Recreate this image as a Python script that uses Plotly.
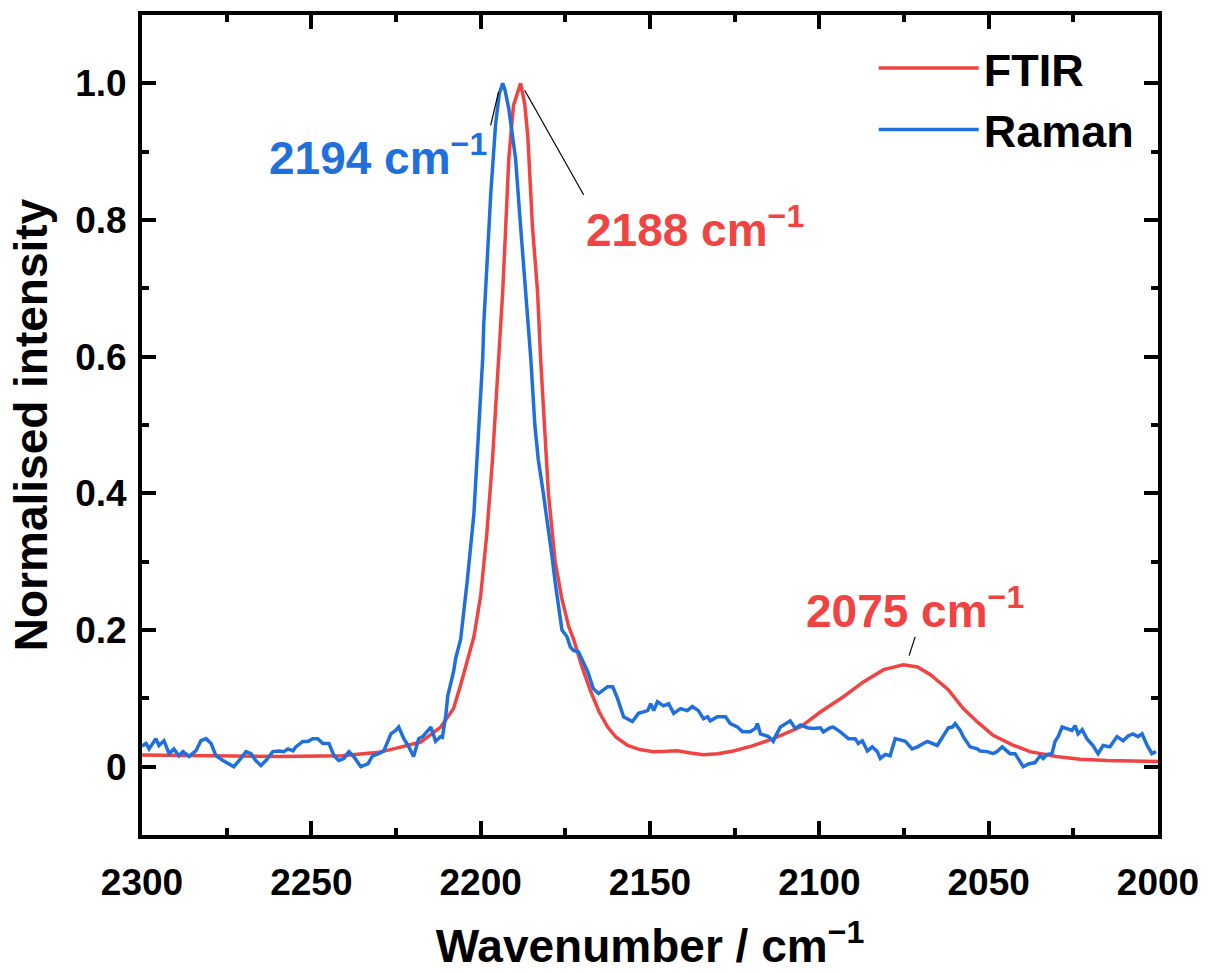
import plotly.graph_objects as go

# ---------------- data ----------------
ftir_x = [2300, 2280, 2260, 2241, 2230, 2225.7, 2217.7, 2211.8, 2208, 2205.9, 2204, 2202,
          2200, 2198.2, 2196.5, 2194.7, 2193.5, 2192.6, 2191.7, 2190.3, 2189, 2188.2, 2187,
          2186.1, 2184.7, 2183.2, 2182.3, 2181, 2180, 2178, 2176, 2174, 2172.6, 2170, 2167.5,
          2165, 2162.5, 2160, 2156.6, 2153, 2149, 2145, 2141.9, 2138, 2134.2, 2130, 2125.4,
          2120, 2113.6, 2105.6, 2099.7, 2093, 2087, 2081, 2075.2, 2071, 2067.3, 2062, 2057.5,
          2053, 2048.7, 2043, 2037.8, 2030, 2023, 2015, 2008, 2000]
ftir_y = [0.017, 0.016, 0.015, 0.016, 0.021, 0.026, 0.036, 0.058, 0.085, 0.12, 0.155, 0.19,
          0.25, 0.34, 0.45, 0.597, 0.695, 0.79, 0.89, 0.968, 0.99, 1.0, 0.97,
          0.924, 0.79, 0.695, 0.597, 0.49, 0.40, 0.30, 0.245, 0.205, 0.187, 0.145, 0.11,
          0.08, 0.058, 0.043, 0.031, 0.025, 0.022, 0.0225, 0.0234, 0.02, 0.0176, 0.019, 0.023,
          0.03, 0.041, 0.058, 0.08, 0.102, 0.124, 0.142, 0.149, 0.146, 0.135, 0.113, 0.085,
          0.064, 0.046, 0.032, 0.022, 0.015, 0.011, 0.009, 0.008, 0.0075]

raman_x = [2300, 2298.8, 2297.9, 2295.9, 2295, 2293.5, 2292, 2290.6, 2289.1, 2287.9, 2286.1,
           2284.1, 2282.6, 2281.1, 2279.6, 2278.2, 2276.1, 2274.3, 2272.9, 2270.8, 2269.3,
           2267.8, 2266.4, 2264.9, 2263.4, 2261.4, 2259.6, 2258.1, 2256.9, 2255.4, 2254.6,
           2252.5, 2251, 2249.6, 2248.1, 2246.6, 2244.8, 2243.3, 2241.9, 2240.4, 2238.9,
           2237.5, 2235.4, 2233.3, 2231.9, 2230.1, 2228.6, 2226.5, 2225.1, 2224.2, 2222.7,
           2221.2, 2219.8, 2218.3, 2217.1, 2214.7, 2213.3, 2211.8, 2211.3, 2210.3, 2209.7,
           2208, 2207.4, 2205.9, 2204, 2202, 2200.5, 2199.4, 2199.1, 2198, 2197, 2195.6,
           2194.5, 2193.5, 2192.8, 2191.7, 2189.7, 2188.2, 2186.7, 2185.2, 2184, 2183,
           2181.5, 2180.6, 2180, 2179, 2178, 2177, 2176, 2174.5, 2173.5, 2172.6, 2171.1,
           2168.4, 2166.7, 2165.2, 2162.5, 2161, 2159.6, 2157.8, 2155.2, 2153.4, 2150.7,
           2149.8, 2148.9, 2147.8, 2146, 2144.5, 2143, 2141, 2139, 2137.5, 2135.7, 2134.2,
           2133, 2132.2, 2130.1, 2127.7, 2126.3, 2124.2, 2122.7, 2120.4, 2118.9, 2118.3,
           2117.4, 2115, 2113.6, 2113, 2111.5, 2108.6, 2107.1, 2105.6, 2103.5, 2101.8,
           2099.7, 2098.8, 2096.8, 2095.9, 2093.8, 2091.4, 2089.4, 2088.5, 2087.3, 2085.8,
           2084.4, 2082.9, 2082, 2080.5, 2079.1, 2077.6, 2075.5, 2074.6, 2072.6, 2071,
           2069.3, 2068.1, 2065.2, 2063.4, 2061.9, 2060.7, 2059.9, 2058.4, 2057.5, 2055.5,
           2053.4, 2052.5, 2050.4, 2048.7, 2047.5, 2046, 2044.5, 2043.7, 2042.2, 2040.7,
           2039.8, 2038.3, 2036.3, 2034.8, 2033.9, 2032.7, 2031.3, 2030.4, 2029.5, 2028.3,
           2026.8, 2025.4, 2024.5, 2023.6, 2022.4, 2021, 2019.2, 2017.7, 2016.2, 2014.2,
           2012.1, 2010.3, 2008.8, 2007.4, 2005.9, 2004.7, 2003.2, 2001.8, 2000.6]
raman_y = [0.03, 0.034, 0.026, 0.041, 0.031, 0.038, 0.019, 0.026, 0.016, 0.022, 0.015,
           0.023, 0.038, 0.041, 0.034, 0.016, 0.009, 0.004, 0.0, 0.012, 0.022,
           0.019, 0.009, 0.0015, 0.009, 0.022, 0.023, 0.022, 0.026, 0.023, 0.029,
           0.037, 0.037, 0.041, 0.041, 0.034, 0.034, 0.016, 0.009, 0.012, 0.022,
           0.015, 0.0, 0.004, 0.016, 0.019, 0.023, 0.048, 0.053, 0.058, 0.041,
           0.029, 0.015, 0.041, 0.044, 0.058, 0.037, 0.044, 0.043, 0.075, 0.104,
           0.139, 0.158, 0.187, 0.27, 0.37, 0.49, 0.597, 0.646, 0.744, 0.84, 0.94,
           0.985, 1.0, 0.99, 0.963, 0.89, 0.79, 0.695, 0.597, 0.5, 0.45,
           0.40, 0.37, 0.35, 0.31, 0.27, 0.235, 0.2, 0.19, 0.175, 0.17, 0.168,
           0.139, 0.114, 0.107, 0.117, 0.117, 0.1, 0.073, 0.066, 0.078, 0.082,
           0.092, 0.082, 0.095, 0.089, 0.092, 0.078, 0.085, 0.082, 0.088, 0.082, 0.07,
           0.073, 0.067, 0.073, 0.073, 0.063, 0.058, 0.051, 0.051, 0.056, 0.063,
           0.048, 0.044, 0.037, 0.044, 0.058, 0.067, 0.056, 0.061, 0.057, 0.056,
           0.057, 0.051, 0.057, 0.058, 0.051, 0.041, 0.041, 0.034, 0.038, 0.023,
           0.029, 0.022, 0.012, 0.018, 0.016, 0.041, 0.038, 0.037, 0.026, 0.029,
           0.034, 0.037, 0.031, 0.045, 0.057, 0.058, 0.063, 0.053, 0.044, 0.029,
           0.026, 0.023, 0.022, 0.019, 0.022, 0.029, 0.023, 0.019, 0.019, 0.007,
           0.0, 0.004, 0.006, 0.016, 0.012, 0.018, 0.019, 0.037, 0.044, 0.058,
           0.056, 0.053, 0.06, 0.048, 0.054, 0.041, 0.031, 0.019, 0.031, 0.029,
           0.044, 0.038, 0.045, 0.048, 0.044, 0.048, 0.031, 0.019, 0.022]

x_tick_vals = [2300, 2250, 2200, 2150, 2100, 2050, 2000]
y_tick_vals = [0, 0.2, 0.4, 0.6, 0.8, 1.0]
y_tick_text = ["0", "0.2", "0.4", "0.6", "0.8", "1.0"]

RED = "#F24343"
BLUE = "#1F6FDD"
FONT = "Liberation Sans, Arial, sans-serif"

# peak labels: (text, colour, text x, text y, anchor, leader line x0, y0, x1, y1)
peak_labels = [
    ("2194 cm<sup>−1</sup>", BLUE, 2197.6, 0.895, "right", 2197.05, 0.9385, 2194.7, 0.988),
    ("2188 cm<sup>−1</sup>", RED, 2169.6, 0.79, "left", 2187.0, 0.99, 2169.6, 0.837),
    ("2075 cm<sup>−1</sup>", RED, 2071.7, 0.232, "center", 2071.7, 0.19, 2073.5, 0.1625),
]

fig = go.Figure()
fig.add_trace(go.Scatter(x=ftir_x, y=ftir_y, mode="lines", name="FTIR",
                         line=dict(color=RED, width=3.5)))
fig.add_trace(go.Scatter(x=raman_x, y=raman_y, mode="lines", name="Raman",
                         line=dict(color=BLUE, width=3.5)))

for text, col, tx, ty, anc, lx0, ly0, lx1, ly1 in peak_labels:
    fig.add_annotation(x=tx, y=ty, xref="x", yref="y", text=text, showarrow=False,
                       xanchor=anc, yanchor="middle",
                       font=dict(family=FONT, size=46, color=col, weight="bold"))
    fig.add_shape(type="line", xref="x", yref="y", x0=lx0, y0=ly0, x1=lx1, y1=ly1,
                  line=dict(color="black", width=1.2))

axis_common = dict(
    showgrid=False, zeroline=False, showline=True, linecolor="black", linewidth=4,
    mirror="allticks", ticks="inside", ticklen=14, tickwidth=4, tickcolor="black",
    tickfont=dict(family=FONT, size=37, color="black", weight="bold"),
)

fig.update_xaxes(
    range=[2300, 2000], tickvals=x_tick_vals, ticklabelstandoff=12,
    minor=dict(dtick=25, tick0=2000, ticks="inside", ticklen=7, tickwidth=4, tickcolor="black"),
    title=dict(text="Wavenumber / cm<sup>−1</sup>", standoff=34,
               font=dict(family=FONT, size=46, color="black", weight="bold")),
    **axis_common)
fig.update_yaxes(
    range=[-0.1, 1.1], tickvals=y_tick_vals, ticktext=y_tick_text, ticklabelstandoff=4,
    minor=dict(dtick=0.1, tick0=0, ticks="inside", ticklen=7, tickwidth=4, tickcolor="black"),
    title=dict(text="Normalised intensity", standoff=14,
               font=dict(family=FONT, size=46, color="black", weight="bold")),
    **axis_common)

fig.update_layout(
    width=1209, height=972,
    margin=dict(l=142, r=51, t=15, b=137, autoexpand=False),
    paper_bgcolor="white", plot_bgcolor="white",
    font=dict(family=FONT, color="black", weight="bold"),
    legend=dict(x=0.982, y=0.979, xanchor="right", yanchor="top",
                bgcolor="rgba(0,0,0,0)", borderwidth=0, itemwidth=100,
                tracegroupgap=0,
                font=dict(family=FONT, size=45, color="black", weight="bold")),
)

fig.write_html("out.html")
